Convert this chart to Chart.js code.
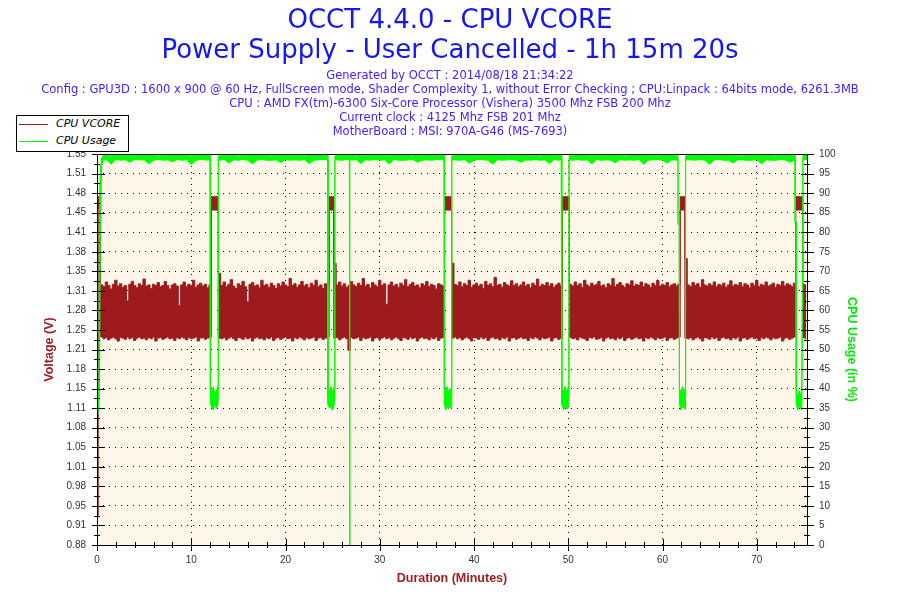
<!DOCTYPE html>
<html>
<head>
<meta charset="utf-8">
<script src="https://cdn.jsdelivr.net/npm/chart.js@4.4.1/dist/chart.umd.min.js"></script>
<style>
  html, body { margin: 0; padding: 0; background: #fff; }
  #wrap { position: relative; width: 900px; height: 600px; }
  #legend {
    position: absolute; left: 16px; top: 115px; width: 111px; height: 35px;
    border: 1px solid #000; background: #fff;
    font: italic 11px "DejaVu Sans", sans-serif; color: #000;
  }
  #legend .row { position: absolute; left: 0; height: 16px; line-height: 16px; white-space: nowrap; }
  #legend .sw { position: absolute; left: 2px; top: 8px; width: 29px; height: 1px; }
  #legend .lbl { position: absolute; left: 39px; top: 0; }
</style>
</head>
<body>
<div id="wrap">
  <canvas id="chart" width="900" height="600"></canvas>
  <div id="legend">
    <div class="row" style="top:0px"><span class="sw" style="background:#9d1a1d"></span><span class="lbl">CPU VCORE</span></div>
    <div class="row" style="top:17px"><span class="sw" style="background:#00ff00"></span><span class="lbl">CPU Usage</span></div>
  </div>
</div>
<script>
/* global Chart */
const titleLines = ['OCCT 4.4.0 - CPU VCORE', 'Power Supply - User Cancelled - 1h 15m 20s'];
const infoLines = [
  'Generated by OCCT : 2014/08/18 21:34:22',
  'Config : GPU3D : 1600 x 900 @ 60 Hz, FullScreen mode, Shader Complexity 1, without Error Checking ; CPU:Linpack : 64bits mode, 6261.3MB',
  'CPU : AMD FX(tm)-6300 Six-Core Processor (Vishera) 3500 Mhz FSB 200 Mhz',
  'Current clock : 4125 Mhz FSB 201 Mhz',
  'MotherBoard : MSI: 970A-G46 (MS-7693)',
];

// x axis (minutes)
const durationMax = 75.33;
const xTicks = [0, 10, 20, 30, 40, 50, 60, 70];
// left axis labels, one per 5 % row of the right axis
const voltMin = 0.88;
const voltMax = 1.549;
const voltLabels = ['0.88', '0.91', '0.95', '0.98', '1.01', '1.05', '1.08', '1.11', '1.15', '1.18', '1.21',
  '1.25', '1.28', '1.31', '1.35', '1.38', '1.41', '1.45', '1.48', '1.51', '1.55'];

// CPU VCORE, one sample every 15 s: upper and lower edge of the trace in each sample
const vcoreStep = 0.25;
const vcoreHigh = [
  1.476, 1.476, 1.325, 1.322, 1.330, 1.324, 1.318, 1.326, 1.333, 1.323,
  1.327, 1.321, 1.324, 1.298, 1.326, 1.331, 1.324, 1.320, 1.327, 1.324,
  1.335, 1.323, 1.325, 1.319, 1.326, 1.324, 1.329, 1.322, 1.324, 1.331,
  1.324, 1.318, 1.325, 1.327, 1.323, 1.290, 1.325, 1.330, 1.322, 1.326,
  1.324, 1.333, 1.321, 1.325, 1.328, 1.323, 1.326, 1.320, 1.325, 1.476,
  1.476, 1.476, 1.345, 1.324, 1.330, 1.322, 1.326, 1.334, 1.323, 1.319,
  1.327, 1.324, 1.331, 1.322, 1.296, 1.326, 1.329, 1.323, 1.325, 1.320,
  1.333, 1.324, 1.326, 1.321, 1.328, 1.324, 1.319, 1.327, 1.323, 1.330,
  1.325, 1.322, 1.336, 1.324, 1.327, 1.321, 1.325, 1.331, 1.323, 1.326,
  1.320, 1.328, 1.324, 1.333, 1.322, 1.325, 1.319, 1.327, 1.324, 1.476,
  1.476, 1.362, 1.325, 1.330, 1.323, 1.327, 1.321, 1.324, 1.331, 1.325,
  1.322, 1.328, 1.324, 1.336, 1.323, 1.326, 1.320, 1.329, 1.325, 1.322,
  1.333, 1.324, 1.327, 1.292, 1.325, 1.330, 1.323, 1.326, 1.321, 1.328,
  1.324, 1.334, 1.322, 1.326, 1.329, 1.323, 1.325, 1.320, 1.327, 1.324,
  1.331, 1.322, 1.326, 1.324, 1.318, 1.327, 1.325, 1.323, 1.476, 1.476,
  1.476, 1.362, 1.326, 1.324, 1.330, 1.322, 1.327, 1.324, 1.333, 1.321,
  1.325, 1.328, 1.323, 1.326, 1.319, 1.331, 1.324, 1.327, 1.322, 1.338,
  1.324, 1.326, 1.321, 1.329, 1.325, 1.323, 1.332, 1.324, 1.327, 1.322,
  1.325, 1.330, 1.323, 1.326, 1.320, 1.328, 1.324, 1.335, 1.322, 1.326,
  1.324, 1.329, 1.323, 1.327, 1.321, 1.325, 1.328, 1.323, 1.476, 1.476,
  1.476, 1.326, 1.323, 1.330, 1.324, 1.327, 1.321, 1.333, 1.325, 1.322,
  1.328, 1.324, 1.326, 1.331, 1.323, 1.325, 1.320, 1.327, 1.324, 1.336,
  1.322, 1.326, 1.329, 1.324, 1.321, 1.327, 1.325, 1.332, 1.323, 1.326,
  1.324, 1.330, 1.322, 1.327, 1.325, 1.321, 1.328, 1.324, 1.333, 1.323,
  1.326, 1.324, 1.329, 1.322, 1.325, 1.327, 1.323, 1.326, 1.476, 1.476,
  1.370, 1.325, 1.322, 1.329, 1.324, 1.327, 1.321, 1.334, 1.325, 1.323,
  1.327, 1.324, 1.330, 1.322, 1.326, 1.324, 1.328, 1.321, 1.325, 1.332,
  1.323, 1.326, 1.324, 1.329, 1.322, 1.327, 1.325, 1.320, 1.328, 1.324,
  1.333, 1.322, 1.326, 1.324, 1.330, 1.323, 1.325, 1.328, 1.321, 1.326,
  1.324, 1.331, 1.323, 1.327, 1.325, 1.322, 1.328, 1.476, 1.476, 1.476,
  1.326, 1.324,
];
const vcoreLow = [
  0.930, 1.455, 1.236, 1.233, 1.235, 1.231, 1.234, 1.236, 1.233, 1.229,
  1.235, 1.234, 1.232, 1.236, 1.233, 1.235, 1.230, 1.234, 1.236, 1.233,
  1.234, 1.231, 1.235, 1.233, 1.236, 1.229, 1.234, 1.235, 1.232, 1.234,
  1.236, 1.233, 1.234, 1.230, 1.235, 1.233, 1.236, 1.234, 1.231, 1.235,
  1.233, 1.234, 1.236, 1.229, 1.234, 1.235, 1.232, 1.234, 1.236, 1.453,
  1.453, 1.453, 1.234, 1.233, 1.235, 1.231, 1.234, 1.236, 1.233, 1.230,
  1.235, 1.234, 1.232, 1.236, 1.233, 1.235, 1.229, 1.234, 1.236, 1.233,
  1.234, 1.231, 1.235, 1.233, 1.236, 1.230, 1.234, 1.235, 1.232, 1.234,
  1.236, 1.233, 1.234, 1.229, 1.235, 1.233, 1.236, 1.234, 1.231, 1.235,
  1.233, 1.234, 1.236, 1.230, 1.234, 1.235, 1.232, 1.234, 1.236, 1.453,
  1.453, 1.234, 1.235, 1.231, 1.234, 1.236, 1.233, 1.213, 1.235, 1.233,
  1.234, 1.236, 1.230, 1.235, 1.233, 1.234, 1.236, 1.229, 1.234, 1.235,
  1.232, 1.234, 1.236, 1.233, 1.235, 1.231, 1.234, 1.236, 1.233, 1.230,
  1.235, 1.234, 1.232, 1.236, 1.233, 1.235, 1.229, 1.234, 1.236, 1.233,
  1.234, 1.231, 1.235, 1.233, 1.236, 1.230, 1.234, 1.235, 1.453, 1.453,
  1.453, 1.234, 1.236, 1.233, 1.235, 1.231, 1.234, 1.236, 1.233, 1.229,
  1.235, 1.234, 1.232, 1.236, 1.233, 1.235, 1.230, 1.234, 1.236, 1.233,
  1.234, 1.231, 1.235, 1.233, 1.236, 1.229, 1.234, 1.235, 1.232, 1.234,
  1.236, 1.233, 1.234, 1.230, 1.235, 1.233, 1.236, 1.234, 1.231, 1.235,
  1.233, 1.234, 1.236, 1.229, 1.234, 1.235, 1.232, 1.234, 1.453, 1.453,
  1.453, 1.235, 1.233, 1.234, 1.231, 1.236, 1.234, 1.233, 1.230, 1.235,
  1.234, 1.236, 1.232, 1.233, 1.235, 1.229, 1.234, 1.236, 1.233, 1.234,
  1.231, 1.235, 1.233, 1.236, 1.230, 1.234, 1.235, 1.232, 1.234, 1.236,
  1.233, 1.234, 1.229, 1.235, 1.233, 1.236, 1.234, 1.231, 1.235, 1.233,
  1.234, 1.236, 1.230, 1.234, 1.235, 1.232, 1.234, 1.236, 1.453, 1.453,
  1.234, 1.233, 1.235, 1.231, 1.234, 1.236, 1.233, 1.229, 1.235, 1.234,
  1.232, 1.236, 1.233, 1.235, 1.230, 1.234, 1.236, 1.233, 1.234, 1.231,
  1.235, 1.233, 1.236, 1.229, 1.234, 1.235, 1.232, 1.234, 1.236, 1.233,
  1.234, 1.230, 1.235, 1.233, 1.236, 1.234, 1.231, 1.235, 1.233, 1.234,
  1.236, 1.229, 1.234, 1.235, 1.232, 1.234, 1.236, 1.453, 1.453, 1.453,
  1.235, 1.233,
];

// CPU usage (%), irregular samples: time in minutes, top and bottom of the trace
const usageTime = [
  0, 0.12, 0.2, 0.27, 0.35, 0.5, 0.65,
  1, 1.5, 2, 2.5, 3, 3.5, 4, 4.5, 5, 5.5, 6, 6.5, 7, 7.5, 8, 8.5, 9, 9.5, 10, 10.5, 11, 11.5, 12, 12.03,
  12.04, 12.2, 12.35, 12.5, 12.65, 12.8, 12.86, 12.87,
  13, 13.5, 14, 14.5, 15, 15.5, 16, 16.5, 17, 17.5, 18, 18.5, 19, 19.5, 20, 20.5, 21, 21.5, 22, 22.5, 23, 23.5, 24, 24.48,
  24.5, 24.65, 24.8, 24.95, 25.1, 25.22, 25.24,
  25.5, 26, 26.5, 26.78, 26.8, 26.82,
  27, 27.5, 28, 28.5, 29, 29.5, 30, 30.5, 31, 31.5, 32, 32.5, 33, 33.5, 34, 34.5, 35, 35.5, 36, 36.5, 36.84,
  36.86, 37, 37.15, 37.3, 37.45, 37.6, 37.63, 37.65,
  38, 38.5, 39, 39.5, 40, 40.5, 41, 41.5, 42, 42.5, 43, 43.5, 44, 44.5, 45, 45.5, 46, 46.5, 47, 47.5, 48, 48.5, 49, 49.26,
  49.27, 49.32, 49.33, 49.5, 49.65, 49.8, 49.95, 50.07, 50.09,
  50.5, 51, 51.5, 52, 52.5, 53, 53.5, 54, 54.5, 55, 55.5, 56, 56.5, 57, 57.5, 58, 58.5, 59, 59.5, 60, 60.5, 61, 61.5, 61.64,
  61.65, 61.78, 61.8, 61.95, 62.1, 62.25, 62.4, 62.44, 62.46,
  63, 63.5, 64, 64.5, 65, 65.5, 66, 66.5, 67, 67.5, 68, 68.5, 69, 69.5, 70, 70.5, 71, 71.5, 72, 72.5, 73, 73.5, 74, 74.08,
  74.09, 74.18, 74.2, 74.35, 74.5, 74.65, 74.78, 74.84, 74.9, 75.1, 75.33,
];
const usageHigh = [
  38, 40, 42, 88, 96, 99, 99.6,
  99.7, 99.5, 99.7, 99.8, 99.6, 99.7, 99.5, 99.7, 99.6, 99.8, 99.7, 99.5, 99.7, 99.6, 99.7, 99.8, 99.6, 99.7, 99.5, 99.7, 99.6, 99.8, 99.7, 99.6,
  40, 39, 40.5, 38.5, 39.5, 40, 41, 99.5,
  99.7, 99.6, 99.8, 99.7, 99.5, 99.7, 99.6, 99.7, 99.8, 99.6, 99.7, 99.5, 99.7, 99.6, 99.8, 99.7, 99.6, 99.7, 99.5, 99.7, 99.8, 99.6, 99.7, 99.6,
  40, 39, 40.5, 39, 40, 41, 99.5,
  99.7, 99.6, 99.7, 99.6, 0, 99.6,
  99.7, 99.5, 99.7, 99.6, 99.8, 99.7, 99.6, 99.7, 99.5, 99.7, 99.8, 99.6, 99.7, 99.5, 99.7, 99.6, 99.8, 99.7, 99.6, 99.7, 99.6,
  40, 39.5, 40.5, 39, 40, 39.5, 41, 99.5,
  99.7, 99.6, 99.8, 99.7, 99.5, 99.7, 99.6, 99.7, 99.8, 99.6, 99.7, 99.5, 99.7, 99.6, 99.8, 99.7, 99.6, 99.7, 99.5, 99.7, 99.8, 99.6, 99.7, 99.6,
  92, 92, 40, 39, 40.5, 39.5, 40, 41, 99.5,
  99.7, 99.6, 99.8, 99.7, 99.5, 99.7, 99.6, 99.7, 99.8, 99.6, 99.7, 99.5, 99.7, 99.6, 99.8, 99.7, 99.6, 99.7, 99.5, 99.7, 99.8, 99.6, 99.7, 99.6,
  82, 82, 40, 39, 40.5, 39.5, 40, 41, 99.5,
  99.7, 99.6, 99.8, 99.7, 99.5, 99.7, 99.6, 99.7, 99.8, 99.6, 99.7, 99.5, 99.7, 99.6, 99.8, 99.7, 99.6, 99.7, 99.5, 99.7, 99.8, 99.6, 99.7, 99.6,
  82.7, 82.7, 39, 38, 39.5, 38.5, 39, 70, 99.6, 99.7, 99.6,
];
const usageLow = [
  35, 34, 36, 40, 80, 97, 98.4,
  98.5, 97.4, 98.6, 98.4, 98.5, 97.9, 98.6, 98.5, 98.5, 97.5, 98.4, 98.6, 98.4, 98.5, 98.0, 98.6, 98.4, 98.5, 97.3, 98.4, 98.6, 98.5, 98.4, 98.6,
  36, 35, 34.5, 36, 35, 35.5, 37, 98.5,
  98.4, 98.6, 97.7, 98.5, 98.4, 98.6, 98.4, 97.5, 98.5, 98.6, 98.4, 98.4, 98.5, 97.8, 98.6, 98.4, 98.5, 98.4, 98.6, 97.6, 98.4, 98.5, 98.6, 98.5,
  36, 35, 35.5, 34.5, 35, 37, 98.5,
  98.5, 98.4, 98.6, 98.6, 0, 98.6,
  98.4, 98.6, 97.6, 98.5, 98.4, 98.6, 98.4, 98.5, 97.5, 98.6, 98.4, 98.4, 98.5, 98.6, 97.9, 98.4, 98.5, 98.4, 98.6, 98.5, 98.6,
  36, 34.5, 35.5, 34.8, 35.5, 35, 37, 98.5,
  98.5, 98.4, 98.6, 97.7, 98.4, 98.6, 98.5, 98.4, 97.4, 98.6, 98.4, 98.5, 98.6, 98.4, 97.9, 98.5, 98.4, 98.6, 98.4, 98.5, 97.6, 98.6, 98.4, 98.6,
  92, 92, 36, 34.5, 35.5, 35, 34.8, 37, 98.5,
  98.4, 98.6, 98.4, 98.5, 97.5, 98.6, 98.4, 98.5, 98.4, 97.8, 98.6, 98.4, 98.5, 98.4, 98.6, 97.4, 98.4, 98.5, 98.6, 98.4, 97.7, 98.5, 98.4, 98.6,
  82, 82, 36, 34.5, 35.5, 35, 34.8, 37, 98.5,
  98.5, 98.4, 98.6, 98.4, 97.4, 98.5, 98.6, 98.4, 98.4, 97.7, 98.6, 98.5, 98.4, 98.4, 98.6, 97.5, 98.5, 98.4, 98.4, 98.6, 98.5, 97.9, 98.4, 98.6,
  82.7, 82.7, 36, 34.5, 35.5, 35, 34.5, 60, 98.6, 98.5, 98.6,
];

const RED = '#9d1a1d';
const GREEN = '#00ff00';
const PLOT_BG = '#fdf6e9';
const TICK_FONT = { family: 'Liberation Sans', size: 10 };

const vcorePoints = (arr) => arr.map((v, i) => ({ x: i * vcoreStep, y: v }));
const usagePoints = (arr) => usageTime.map((t, i) => ({ x: t, y: arr[i] }));

// cream plot background
const plotBackground = {
  id: 'plotBackground',
  beforeDraw(chart) {
    const { ctx, chartArea: a } = chart;
    ctx.save();
    ctx.fillStyle = PLOT_BG;
    ctx.fillRect(a.left, a.top, a.width, a.height);
    ctx.restore();
  },
};

// frame and OCCT style tick marks (major ones cross the axis, minor ones in between)
const tickMarks = {
  id: 'tickMarks',
  afterDraw(chart) {
    const { ctx, chartArea: a, scales } = chart;
    const snap = (v) => Math.round(v) + 0.5;
    ctx.save();
    ctx.strokeStyle = '#000';
    ctx.lineWidth = 1;
    ctx.beginPath();
    ctx.rect(snap(a.left), snap(a.top), Math.round(a.width), Math.round(a.height));
    for (let m = 0; m <= durationMax; m += 2) {
      const px = snap(scales.x.getPixelForValue(m));
      const len = m % 10 === 0 ? 6 : 3;
      ctx.moveTo(px, a.bottom - len);
      ctx.lineTo(px, a.bottom + len);
    }
    for (let k = 0; k <= 40; k++) {
      const py = snap(scales.yU.getPixelForValue(k * 2.5));
      const major = k % 2 === 0;
      ctx.moveTo(a.left - (major ? 5 : 3), py);
      ctx.lineTo(a.left + (major ? 8 : 3), py);
      ctx.moveTo(a.right - (major ? 6 : 3), py);
      ctx.lineTo(a.right + (major ? 7 : 3), py);
    }
    ctx.stroke();
    ctx.restore();
  },
};

new Chart(document.getElementById('chart'), {
  type: 'line',
  data: {
    datasets: [
      {
        label: 'CPU VCORE',
        data: vcorePoints(vcoreHigh),
        yAxisID: 'yV',
        borderColor: RED,
        borderWidth: 1,
        stepped: 'middle',
        pointRadius: 0,
        fill: false,
        order: 2,
      },
      {
        label: 'CPU VCORE (low)',
        data: vcorePoints(vcoreLow),
        yAxisID: 'yV',
        borderColor: RED,
        backgroundColor: RED,
        borderWidth: 1,
        stepped: 'middle',
        pointRadius: 0,
        fill: '-1',
        order: 2,
      },
      {
        label: 'CPU Usage',
        data: usagePoints(usageHigh),
        yAxisID: 'yU',
        borderColor: GREEN,
        borderWidth: 1,
        pointRadius: 0,
        tension: 0,
        fill: false,
        order: 1,
      },
      {
        label: 'CPU Usage (low)',
        data: usagePoints(usageLow),
        yAxisID: 'yU',
        borderColor: GREEN,
        backgroundColor: GREEN,
        borderWidth: 1,
        pointRadius: 0,
        tension: 0,
        fill: '-1',
        order: 1,
      },
    ],
  },
  options: {
    responsive: false,
    animation: false,
    events: [],
    layout: { padding: 0 },
    plugins: {
      legend: { display: false },
      tooltip: { enabled: false },
      title: {
        display: true,
        text: titleLines,
        color: '#1616f5',
        font: { family: 'DejaVu Sans', size: 26, weight: 'normal', lineHeight: 30 / 26 },
        padding: { top: 6, bottom: 3 },
      },
      subtitle: {
        display: true,
        text: infoLines,
        color: '#4a1cff',
        font: { family: 'DejaVu Sans', size: 11.5, lineHeight: 13.9 / 11.5 },
        padding: { top: 0, bottom: 15.5 },
      },
    },
    scales: {
      x: {
        type: 'linear',
        min: 0,
        max: durationMax,
        afterBuildTicks: (s) => { s.ticks = xTicks.map((v) => ({ value: v })); },
        afterFit: (s) => { s.height = 55; },
        ticks: { color: '#333', font: TICK_FONT, padding: 9, maxRotation: 0, autoSkip: false },
        grid: { color: '#000', lineWidth: 1, drawTicks: false },
        border: { display: false, dash: [1, 5] },
        title: {
          display: true,
          text: 'Duration (Minutes)',
          color: RED,
          font: { family: 'Liberation Sans', size: 12.5, weight: 'bold' },
          padding: { top: 0, bottom: 13.5 },
        },
      },
      yV: {
        type: 'linear',
        position: 'left',
        min: voltMin,
        max: voltMax,
        afterBuildTicks: (s) => {
          s.ticks = voltLabels.map((l, i) => ({ value: voltMin + (i * (voltMax - voltMin)) / (voltLabels.length - 1) }));
        },
        afterFit: (s) => { s.width = 97; },
        ticks: { color: '#333', font: TICK_FONT, padding: 11, callback: (v, i) => voltLabels[i] },
        grid: { color: '#000', lineWidth: 1, drawTicks: false },
        border: { display: false, dash: [1, 5] },
        title: {
          display: true,
          text: 'Voltage (V)',
          color: RED,
          font: { family: 'Liberation Sans', size: 12.5, weight: 'bold' },
          padding: { top: 42.5, bottom: 0 },
        },
      },
      yU: {
        type: 'linear',
        position: 'right',
        min: 0,
        max: 100,
        afterFit: (s) => { s.width = 93; },
        ticks: { color: '#333', font: TICK_FONT, padding: 12, stepSize: 5 },
        grid: { drawOnChartArea: false, drawTicks: false },
        border: { display: false },
        title: {
          display: true,
          text: 'CPU Usage (in %)',
          color: '#00e800',
          font: { family: 'Liberation Sans', size: 12.5, weight: 'bold' },
          padding: { top: 41.5, bottom: 0 },
        },
      },
    },
  },
  plugins: [plotBackground, tickMarks],
});
</script>
</body>
</html>
